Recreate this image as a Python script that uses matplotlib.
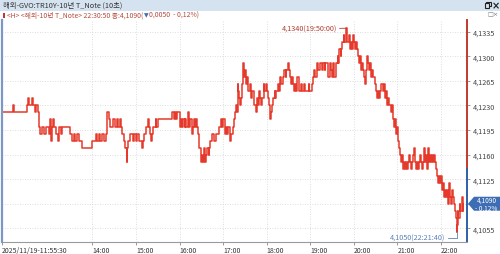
import pandas as pd
import matplotlib.pyplot as plt
from matplotlib.patches import Polygon, Rectangle
from matplotlib.lines import Line2D

plt.rcParams['font.family'] = ['Noto Sans CJK KR', 'DejaVu Sans']

day = '2025-11-19'
times = [
    '11:55:30', '12:11', '12:12', '12:30', '12:31', '12:33', '12:37', '12:38', '12:41', '12:42',
    '12:45', '12:47', '12:48', '12:51', '12:53', '12:56', '13:00', '13:02', '13:03', '13:04',
    '13:06', '13:07', '13:10', '13:13', '13:14', '13:17', '13:18', '13:29', '13:32', '13:35',
    '13:36', '13:39', '13:42', '13:46', '14:00', '14:05', '14:06', '14:09', '14:11', '14:13',
    '14:16', '14:19', '14:20', '14:23', '14:24', '14:29', '14:31', '14:34', '14:35', '14:38',
    '14:40', '14:41', '14:44', '14:45', '14:47', '14:48', '14:49', '14:52', '14:56', '14:58',
    '15:00', '15:02', '15:04', '15:09', '15:10', '15:11', '15:14', '15:16', '15:18', '15:19',
    '15:21', '15:22', '15:24', '15:27', '15:28', '15:30', '15:50', '15:53', '15:54', '15:55',
    '15:57', '16:00', '16:01', '16:02', '16:04', '16:05', '16:07', '16:08', '16:09', '16:12',
    '16:13', '16:15', '16:17', '16:18', '16:20', '16:22', '16:23', '16:24', '16:26', '16:27',
    '16:29', '16:30', '16:31', '16:33', '16:34', '16:35', '16:37', '16:38', '16:40', '16:41',
    '16:42', '16:45', '16:48', '16:50', '16:55', '16:57', '16:59', '17:00', '17:02', '17:03',
    '17:04', '17:06', '17:07', '17:09', '17:10', '17:11', '17:13', '17:15', '17:17', '17:18',
    '17:19', '17:20', '17:21', '17:22', '17:24', '17:25', '17:26', '17:28', '17:29', '17:30',
    '17:31', '17:33', '17:34', '17:35', '17:37', '17:38', '17:39', '17:40', '17:42', '17:43',
    '17:45', '17:47', '17:48', '17:49', '17:51', '17:52', '17:53', '17:56', '17:57', '17:59',
    '18:00', '18:02', '18:03', '18:04', '18:06', '18:07', '18:09', '18:11', '18:12', '18:13',
    '18:15', '18:17', '18:18', '18:20', '18:22', '18:24', '18:26', '18:27', '18:29', '18:31',
    '18:32', '18:33', '18:35', '18:36', '18:38', '18:39', '18:40', '18:42', '18:44', '18:45',
    '18:48', '18:49', '18:52', '18:53', '18:58', '18:59', '19:02', '19:04', '19:05', '19:07',
    '19:09', '19:10', '19:11', '19:13', '19:16', '19:17', '19:20', '19:21', '19:24', '19:25',
    '19:27', '19:29', '19:30', '19:31', '19:32', '19:33', '19:35', '19:36', '19:38', '19:39',
    '19:40', '19:42', '19:43', '19:44', '19:46', '19:47', '19:50', '19:51', '19:53', '19:55',
    '19:56', '19:58', '19:59', '20:00', '20:02', '20:03', '20:04', '20:06', '20:07', '20:09',
    '20:10', '20:11', '20:13', '20:14', '20:15', '20:17', '20:18', '20:20', '20:21', '20:22',
    '20:24', '20:25', '20:26', '20:29', '20:31', '20:32', '20:33', '20:35', '20:36', '20:38',
    '20:40', '20:42', '20:43', '20:44', '20:46', '20:47', '20:49', '20:51', '20:53', '20:54',
    '20:55', '20:57', '20:58', '21:00', '21:01', '21:02', '21:04', '21:05', '21:06', '21:08',
    '21:09', '21:11', '21:12', '21:13', '21:15', '21:16', '21:17', '21:19', '21:20', '21:22',
    '21:23', '21:24', '21:26', '21:27', '21:28', '21:30', '21:31', '21:33', '21:34', '21:35',
    '21:37', '21:38', '21:40', '21:41', '21:42', '21:44', '21:45', '21:46', '21:48', '21:49',
    '21:51', '21:52', '21:53', '21:55', '21:56', '21:57', '21:59', '22:00', '22:02', '22:03',
    '22:04', '22:06', '22:07', '22:09', '22:10', '22:11', '22:13', '22:14', '22:15', '22:17',
    '22:18', '22:20', '22:21', '22:21:40', '22:22', '22:23', '22:24', '22:26', '22:27', '22:29',
    '22:30', '22:30:50',
]
prices = [
    4.1220, 4.1230, 4.1220, 4.1230, 4.1240, 4.1230, 4.1240, 4.1230, 4.1220, 4.1230,
    4.1220, 4.1200, 4.1190, 4.1200, 4.1190, 4.1200, 4.1190, 4.1210, 4.1180, 4.1200,
    4.1210, 4.1200, 4.1190, 4.1180, 4.1200, 4.1190, 4.1200, 4.1190, 4.1180, 4.1190,
    4.1180, 4.1190, 4.1180, 4.1170, 4.1180, 4.1190, 4.1180, 4.1190, 4.1180, 4.1190,
    4.1180, 4.1190, 4.1220, 4.1210, 4.1200, 4.1210, 4.1200, 4.1210, 4.1200, 4.1210,
    4.1200, 4.1190, 4.1180, 4.1170, 4.1150, 4.1170, 4.1180, 4.1190, 4.1180, 4.1190,
    4.1180, 4.1190, 4.1180, 4.1170, 4.1180, 4.1190, 4.1200, 4.1210, 4.1200, 4.1190,
    4.1180, 4.1190, 4.1200, 4.1210, 4.1200, 4.1210, 4.1220, 4.1210, 4.1220, 4.1210,
    4.1220, 4.1210, 4.1200, 4.1210, 4.1200, 4.1210, 4.1200, 4.1210, 4.1200, 4.1220,
    4.1200, 4.1210, 4.1190, 4.1200, 4.1210, 4.1200, 4.1210, 4.1200, 4.1190, 4.1170,
    4.1160, 4.1150, 4.1160, 4.1150, 4.1170, 4.1150, 4.1160, 4.1170, 4.1160, 4.1170,
    4.1180, 4.1190, 4.1180, 4.1190, 4.1200, 4.1210, 4.1200, 4.1210, 4.1200, 4.1190,
    4.1200, 4.1190, 4.1200, 4.1190, 4.1180, 4.1190, 4.1200, 4.1210, 4.1220, 4.1230,
    4.1220, 4.1260, 4.1250, 4.1240, 4.1230, 4.1240, 4.1260, 4.1290, 4.1270, 4.1280,
    4.1260, 4.1270, 4.1260, 4.1250, 4.1260, 4.1250, 4.1240, 4.1250, 4.1240, 4.1230,
    4.1220, 4.1240, 4.1230, 4.1250, 4.1240, 4.1230, 4.1240, 4.1260, 4.1250, 4.1260,
    4.1250, 4.1240, 4.1230, 4.1210, 4.1220, 4.1230, 4.1240, 4.1250, 4.1240, 4.1250,
    4.1260, 4.1250, 4.1270, 4.1260, 4.1270, 4.1280, 4.1270, 4.1280, 4.1290, 4.1280,
    4.1270, 4.1260, 4.1270, 4.1260, 4.1250, 4.1260, 4.1250, 4.1270, 4.1260, 4.1250,
    4.1260, 4.1250, 4.1260, 4.1250, 4.1260, 4.1250, 4.1260, 4.1270, 4.1280, 4.1270,
    4.1280, 4.1290, 4.1280, 4.1290, 4.1280, 4.1290, 4.1280, 4.1290, 4.1280, 4.1270,
    4.1290, 4.1280, 4.1270, 4.1280, 4.1290, 4.1270, 4.1280, 4.1290, 4.1300, 4.1290,
    4.1310, 4.1300, 4.1310, 4.1320, 4.1330, 4.1320, 4.1340, 4.1320, 4.1330, 4.1310,
    4.1320, 4.1310, 4.1330, 4.1320, 4.1310, 4.1320, 4.1310, 4.1300, 4.1290, 4.1300,
    4.1280, 4.1290, 4.1280, 4.1270, 4.1260, 4.1280, 4.1300, 4.1290, 4.1280, 4.1290,
    4.1270, 4.1280, 4.1270, 4.1260, 4.1250, 4.1240, 4.1250, 4.1240, 4.1250, 4.1260,
    4.1250, 4.1260, 4.1240, 4.1250, 4.1230, 4.1240, 4.1230, 4.1220, 4.1230, 4.1210,
    4.1200, 4.1210, 4.1190, 4.1200, 4.1180, 4.1170, 4.1160, 4.1150, 4.1160, 4.1140,
    4.1150, 4.1140, 4.1150, 4.1140, 4.1150, 4.1160, 4.1150, 4.1140, 4.1150, 4.1160,
    4.1170, 4.1150, 4.1140, 4.1150, 4.1140, 4.1150, 4.1160, 4.1150, 4.1140, 4.1150,
    4.1170, 4.1150, 4.1160, 4.1140, 4.1170, 4.1150, 4.1160, 4.1150, 4.1160, 4.1150,
    4.1160, 4.1150, 4.1140, 4.1130, 4.1120, 4.1130, 4.1120, 4.1130, 4.1110, 4.1120,
    4.1100, 4.1110, 4.1100, 4.1110, 4.1090, 4.1120, 4.1100, 4.1090, 4.1110, 4.1100,
    4.1090, 4.1080, 4.1070, 4.1050, 4.1060, 4.1080, 4.1070, 4.1090, 4.1080, 4.1100,
    4.1080, 4.1090,
]
prev_close = 4.1140
change = -0.0050
change_pct = -0.12
yticks = [4.1055, 4.1090, 4.1125, 4.1160, 4.1195, 4.1230, 4.1265, 4.1300, 4.1335]
hours = ['14:00', '15:00', '16:00', '17:00', '18:00', '19:00', '20:00', '21:00', '22:00']

RED = '#e5392b'
BLUE = '#3d6db5'
TXT_RED = '#b5483a'


def fmt(v, nd=4):
    return f'{v:.{nd}f}'.replace('.', ',')


t = pd.to_datetime([f'{day} {s}' for s in times], format='mixed')
df = pd.DataFrame({'t': t, 'p': prices})

fig = plt.figure(figsize=(5, 2.55), dpi=100)
W, H = 500, 255
renderer = fig.canvas.get_renderer()


def fx(px):
    return px / W


def fy(py):
    return 1 - py / H


# header bar
fig.patches.append(Rectangle((0, fy(12)), 1, 12 / H, transform=fig.transFigure,
                             facecolor='#d5e2ef', edgecolor='none'))
fig.text(fx(3), fy(6), '해외-GVO:TR10Y-10년 T_Note (10초)', fontsize=5.3, color='#333333', va='center')
# window buttons (restore icon drawn as two squares, then close)
for dx, dy in [(486, 2.5), (484.5, 4)]:
    fig.patches.append(Rectangle((fx(dx), fy(dy + 4.5)), 4.5 / W, 4.5 / H, transform=fig.transFigure,
                                 facecolor='#d5e2ef', edgecolor='#222222', lw=0.8))
fig.text(fx(492), fy(6), '×', fontsize=7, color='#222222', va='center',
         family=['DejaVu Sans'], fontweight='bold')

# second line: current quote
fig.patches.append(Rectangle((fx(3), fy(18.5)), 1.5 / W, 5 / H, transform=fig.transFigure,
                             facecolor='#c0392b', edgecolor='none'))
t1 = fig.text(fx(7), fy(16), f'<H> <해외-10년 T_Note> 22:30:50 종:{fmt(prices[-1])}(',
              fontsize=4.9, color=TXT_RED, va='center')
x_next = t1.get_window_extent(renderer).x1 + 0.5
t2 = fig.text(x_next / W, fy(16), '▼', fontsize=4.3, color=BLUE, va='center', family=['DejaVu Sans'])
x_next = t2.get_window_extent(renderer).x1 + 0.3
fig.text(x_next / W, fy(16), f'{fmt(abs(change))}  - {fmt(abs(change_pct), 2)}%)',
         fontsize=4.9, color=TXT_RED, va='center')
fig.text(fx(487), fy(15), '□×', fontsize=4.5, color='#777777', va='center', family=['DejaVu Sans'])

ax = fig.add_axes([fx(2), 1 - 243 / H, (467 - 2) / W, (243 - 21) / H])
ax.step(df['t'], df['p'], where='post', color=RED, lw=1.1)

x0 = pd.Timestamp(f'{day} 11:55:30')
x1 = pd.Timestamp(f'{day} 22:36:00')
ax.set_xlim(x0, x1)
ax.set_ylim(4.10355, 4.13517)

hour_ts = [pd.Timestamp(f'{day} {h}') for h in hours]
ax.set_xticks([x0] + hour_ts)
ax.set_xticklabels([f'{day.replace("-", "/")}-{times[0]}'] + hours)
for lab in ax.get_xticklabels():
    lab.set_horizontalalignment('left')
ax.tick_params(axis='x', length=2.5, width=0.6, color='#888888', pad=0.3,
               labelsize=5.0, labelcolor='#333333')

ax.yaxis.tick_right()
ax.set_yticks(yticks)
# the current-price tag covers the 4,1090 label
ax.set_yticklabels(['' if v == prices[-1] else fmt(v) for v in yticks])
ax.tick_params(axis='y', length=2, width=0.6, color='#888888', pad=2,
               labelsize=5.2, labelcolor='#444444')

for v in yticks:
    ax.axhline(v, color='#d2d2d2', lw=0.6, ls=(0, (1, 2)), zorder=0)
for h in hour_ts:
    ax.axvline(h, color='#d2d2d2', lw=0.6, ls=(0, (1, 2)), zorder=0)

for s in ['top', 'right']:
    ax.spines[s].set_visible(False)
ax.spines['left'].set_color('#7b97c4')
ax.spines['left'].set_linewidth(1.6)
ax.spines['bottom'].set_color('#9a9a9a')
ax.spines['bottom'].set_linewidth(0.8)

# right edge: red above previous close, blue below
ylo, yhi = ax.get_ylim()
ax.add_line(Line2D([1, 1], [prev_close, yhi], color='#c0392b', lw=1.4,
                   transform=ax.get_yaxis_transform(), clip_on=False))
ax.add_line(Line2D([1, 1], [ylo, prev_close], color='#2f5fa8', lw=1.4,
                   transform=ax.get_yaxis_transform(), clip_on=False))

# high / low labels
imax = df['p'].idxmax()
imin = df['p'].idxmin()
ax.annotate(f'{fmt(df.p[imax])}({df.t[imax]:%H:%M:%S})', xy=(df.t[imax], df.p[imax]),
            xytext=(-7, -0.5), textcoords='offset points', ha='right', va='center',
            fontsize=5.2, color='#b03a2e',
            arrowprops=dict(arrowstyle='-', color='#b03a2e', lw=0.6, shrinkA=0, shrinkB=0))
ax.annotate(f'{fmt(df.p[imin])}({df.t[imin]:%H:%M:%S})', xy=(df.t[imin], df.p[imin]),
            xytext=(-8, -4.3), textcoords='offset points', ha='right', va='center',
            fontsize=5.2, color='#5b82b8',
            arrowprops=dict(arrowstyle='-', color='#5b82b8', lw=0.6, shrinkA=0, shrinkB=0,
                            connectionstyle='angle,angleA=0,angleB=90,rad=0'))

# current price tag
yd = ax.transData.transform((0, prices[-1]))[1]
yc = H - yd
tag = Polygon([(fx(468), fy(yc)), (fx(474), fy(yc - 7)), (fx(500), fy(yc - 7)),
               (fx(500), fy(yc + 7)), (fx(474), fy(yc + 7))],
              closed=True, transform=fig.transFigure, facecolor=BLUE, edgecolor='none')
fig.patches.append(tag)
fig.text(fx(486.5), fy(yc), f'{fmt(prices[-1])}\n- {fmt(abs(change_pct), 2)}%', fontsize=4.7,
         color='white', ha='center', va='center', linespacing=0.95)

fig.savefig('out.png', dpi=100)
